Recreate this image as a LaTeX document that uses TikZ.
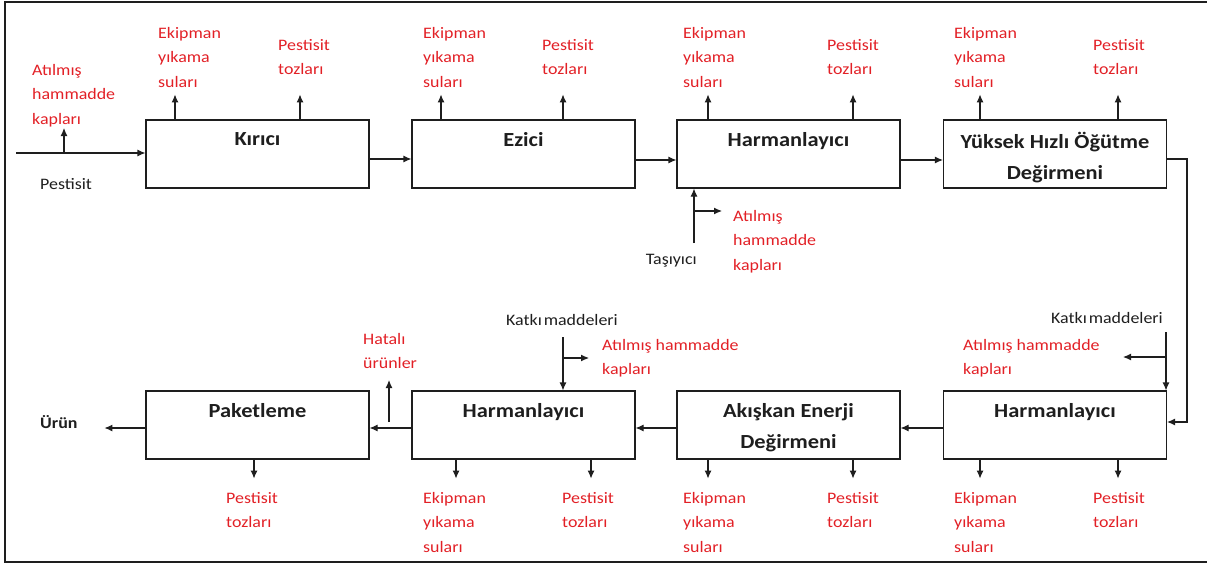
\documentclass[tikz,border=0pt]{standalone}
\usepackage{fontspec}
\setmainfont{Carlito}[FakeStretch=1.12]
\usetikzlibrary{arrows.meta}
\definecolor{lblred}{RGB}{226,32,38}
\definecolor{ink}{RGB}{30,30,30}
\begin{document}
\begin{tikzpicture}[x=1pt,y=-1pt,
  box/.style={draw=ink, line width=1.1pt, minimum width=223pt, minimum height=68pt, inner sep=0pt},
  ttl/.style={font=\fontsize{20}{31}\selectfont\bfseries, text=ink, align=center, anchor=north, inner sep=0pt},
  lbl/.style={text=lblred, font=\fontsize{16}{24.5}\selectfont, align=left, anchor=north west, inner sep=0pt},
  blk/.style={text=ink, font=\fontsize{16}{24.5}\selectfont, inner sep=0pt},
  arr/.style={draw=ink, -{Latex[length=8pt,width=7pt]}, line width=1.1pt}]
\useasboundingbox (0,0) rectangle (1207,565);
\draw[line width=2pt, ink] (1207,2) -- (5,2) -- (5,562) -- (1207,562);

% boxes
\node[box] (kirici) at (257.5,154) {};
\node[box] (ezici) at (523.5,154) {};
\node[box] (harm1) at (788.5,154) {};
\node[box] (yuksek) at (1055,154) {};
\node[box] (paket) at (257.5,425) {};
\node[box] (harm2) at (523.5,425) {};
\node[box] (akiskan) at (788.5,425) {};
\node[box] (harm3) at (1055,425) {};

% titles
\node[ttl] (t1) at ([yshift=-13pt]kirici.north) {Kırıcı};
\node[ttl] (t2) at ([yshift=-13pt]ezici.north) {Ezici};
\node[ttl] (t3) at ([yshift=-13pt]harm1.north) {Harmanlayıcı};
\node[ttl] (t4) at ([yshift=-13pt]yuksek.north) {Yüksek Hızlı Öğütme\\Değirmeni};
\node[ttl] (t5) at ([yshift=-13pt]paket.north) {Paketleme};
\node[ttl] (t6) at ([yshift=-13pt]harm2.north) {Harmanlayıcı};
\node[ttl] (t7) at ([yshift=-13pt]akiskan.north) {Akışkan Enerji\\Değirmeni};
\node[ttl] (t8) at ([yshift=-13pt]harm3.north) {Harmanlayıcı};

% top row flow
\coordinate (in) at (16,153);
\coordinate (inb) at (64,153);
\draw[arr] (in) -- (in -| kirici.west);
\draw[arr] (inb) -- ++(0,-25);
\node[lbl] (a0) at (32,64) {Atılmış\\hammadde\\kapları};
\node[blk, anchor=west] (pin) at (40,184) {Pestisit};

\draw[arr] ([yshift=-5pt]kirici.east) -- ([yshift=-5pt]ezici.west);
\draw[arr] ([yshift=-6pt]ezici.east) -- ([yshift=-6pt]harm1.west);
\draw[arr] ([yshift=-6pt]harm1.east) -- ([yshift=-6pt]yuksek.west);

% top emissions
\draw[arr] ([xshift=-82.5pt]kirici.north) -- ++(0,-25);
\draw[arr] ([xshift=42.5pt]kirici.north) -- ++(0,-25);
\draw[arr] ([xshift=-82.5pt]ezici.north) -- ++(0,-25);
\draw[arr] ([xshift=39.5pt]ezici.north) -- ++(0,-25);
\draw[arr] ([xshift=-80.5pt]harm1.north) -- ++(0,-25);
\draw[arr] ([xshift=64.5pt]harm1.north) -- ++(0,-25);
\draw[arr] ([xshift=-75pt]yuksek.north) -- ++(0,-25);
\draw[arr] ([xshift=63pt]yuksek.north) -- ++(0,-25);
\node[lbl] (e1) at (158,27) {Ekipman\\yıkama\\suları};
\node[lbl] (p1) at (278,39) {Pestisit\\tozları};
\node[lbl] (e2) at (423,27) {Ekipman\\yıkama\\suları};
\node[lbl] (p2) at (542,39) {Pestisit\\tozları};
\node[lbl] (e3) at (683,27) {Ekipman\\yıkama\\suları};
\node[lbl] (p3) at (827,39) {Pestisit\\tozları};
\node[lbl] (e4) at (954,27) {Ekipman\\yıkama\\suları};
\node[lbl] (p4) at (1093,39) {Pestisit\\tozları};

% Taşıyıcı
\coordinate (tas) at (694,243);
\coordinate (tasb) at (694,211);
\draw[arr] (tas) -- (tas |- harm1.south);
\draw[arr] (tasb) -- ++(28,0);
\node[blk, anchor=base east] (tasl) at (697,264) {Taşıyıcı};
\node[lbl] (a1) at (733,210) {Atılmış\\hammadde\\kapları};

% loop from Yüksek to right Harmanlayıcı
\coordinate (r1) at (1187,159);
\coordinate (r2) at (1187,422);
\draw[arr] (yuksek.east |- r1) -- (r1) -- (r2) -- (harm3.east |- r2);

% bottom row flow
\draw[arr] ([yshift=-3pt]harm3.west) -- ([yshift=-3pt]akiskan.east);
\draw[arr] ([yshift=-3pt]akiskan.west) -- ([yshift=-3pt]harm2.east);
\draw[arr] ([yshift=-3pt]harm2.west) -- ([yshift=-3pt]paket.east);
\draw[arr] ([yshift=-3pt]paket.west) -- ++(-41,0);
\node[blk, anchor=west, font=\fontsize{16}{24.5}\selectfont\bfseries] (urun) at (40,422) {Ürün};
\coordinate (hb) at (389,422);
\draw[arr] (hb) -- ++(0,-42);
\node[lbl] (h) at (363,333) {Hatalı\\ürünler};

% Katkı maddeleri (middle)
\node[blk, anchor=base] (k2l) at (562,325) {Katkı\hspace{0.12em}maddeleri};
\coordinate (k2) at (563,337);
\coordinate (k2b) at (563,358);
\draw[arr] (k2) -- (k2 |- harm2.north);
\draw[arr] (k2b) -- ++(26,0);
\node[lbl] (a2) at (602,339) {Atılmış hammadde\\kapları};

% Katkı maddeleri (right)
\node[blk, anchor=base] (k3l) at (1107,323) {Katkı\hspace{0.12em}maddeleri};
\coordinate (k3) at (1166,332);
\coordinate (k3b) at (1166,357);
\draw[arr] (k3) -- (k3 |- harm3.north);
\draw[arr] (k3b) -- ++(-43,0);
\node[lbl] (a3) at (963,339) {Atılmış hammadde\\kapları};

% bottom emissions
\draw[arr] ([xshift=-3.5pt]paket.south) -- ++(0,19);
\draw[arr] ([xshift=-67.5pt]harm2.south) -- ++(0,19);
\draw[arr] ([xshift=67.5pt]harm2.south) -- ++(0,19);
\draw[arr] ([xshift=-80.5pt]akiskan.south) -- ++(0,19);
\draw[arr] ([xshift=64.5pt]akiskan.south) -- ++(0,19);
\draw[arr] ([xshift=-75pt]harm3.south) -- ++(0,19);
\draw[arr] ([xshift=63pt]harm3.south) -- ++(0,19);
\node[lbl] (p5) at (226,492) {Pestisit\\tozları};
\node[lbl] (e6) at (423,492) {Ekipman\\yıkama\\suları};
\node[lbl] (p6) at (562,492) {Pestisit\\tozları};
\node[lbl] (e7) at (683,492) {Ekipman\\yıkama\\suları};
\node[lbl] (p7) at (827,492) {Pestisit\\tozları};
\node[lbl] (e8) at (954,492) {Ekipman\\yıkama\\suları};
\node[lbl] (p8) at (1093,492) {Pestisit\\tozları};
\end{tikzpicture}
\end{document}
